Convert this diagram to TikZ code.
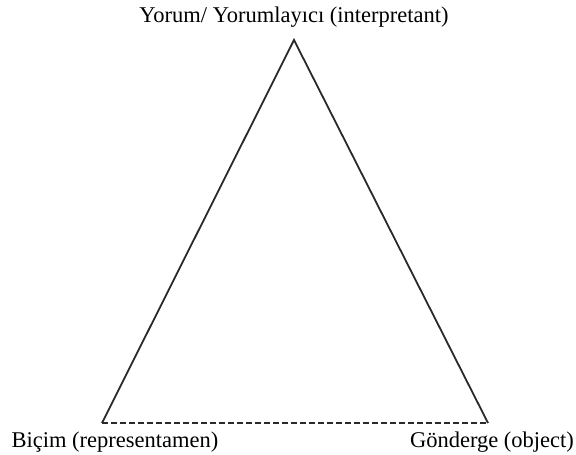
\documentclass[tikz,border=0pt]{standalone}
\usepackage{fontspec}
\setmainfont{Liberation Serif}
\usepackage{xcolor}
\usepackage{tikz}
\usetikzlibrary{positioning}
\definecolor{inkgray}{HTML}{2A2A2A}

\begin{document}
\begin{tikzpicture}[x=1pt,y=-1pt,
  lbl/.style={font=\fontsize{22.5}{26}\selectfont,text=black,inner sep=0pt},
  side/.style={draw=inkgray,line width=1.8pt},
  base/.style={draw=inkgray,line width=1.8pt,dash pattern=on 6pt off 3pt}
]
\useasboundingbox (0,0) rectangle (576,455);
\coordinate (apex) at (294,40);
\coordinate (left) at (102,423);
\coordinate (right) at (488,423);
\node[lbl] (interp) at (294,17) {Yorum/ Yorumlayıcı (interpretant)};
\node[lbl] (repr) at (115,442) {Biçim (representamen)};
\node[lbl] (obj) at (492,442) {Gönderge (object)};
\draw[side] (left) -- (apex) -- (right);
\draw[base] (left) -- (right);
\end{tikzpicture}
\end{document}
